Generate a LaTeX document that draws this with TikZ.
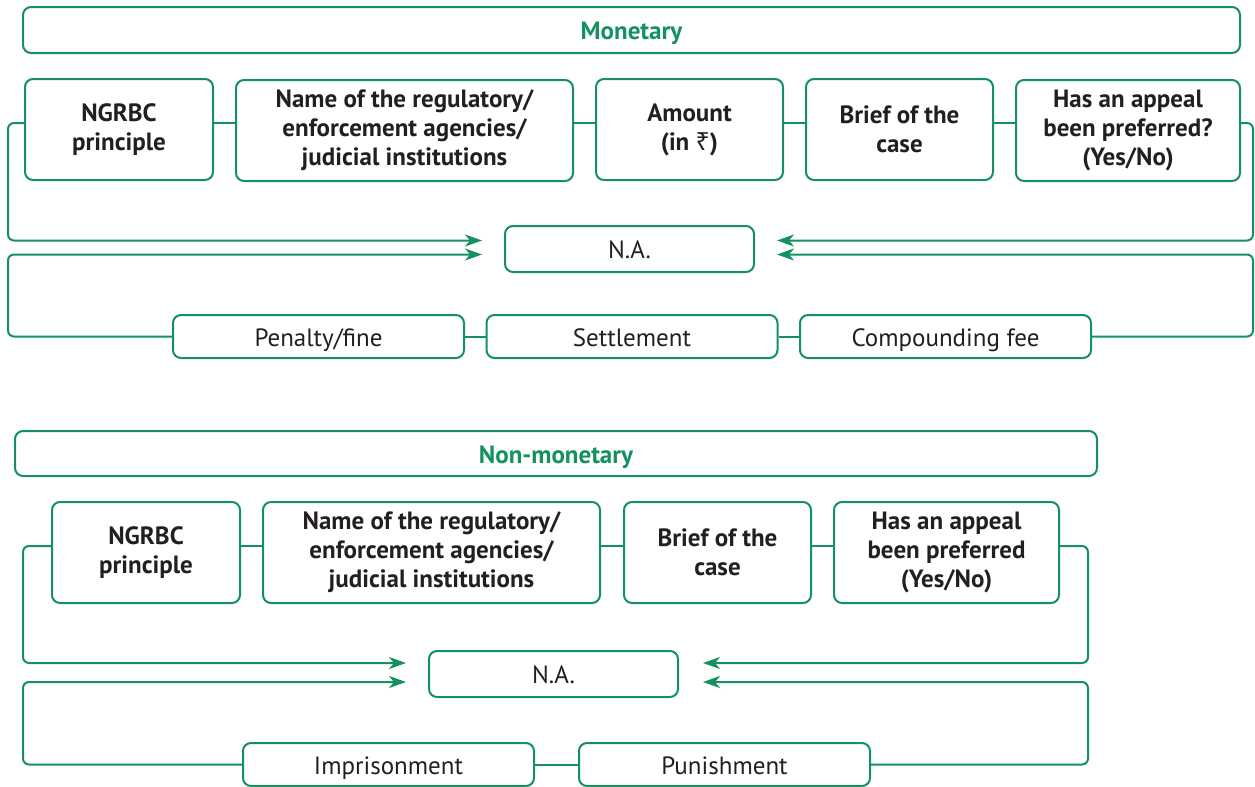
\documentclass[tikz,border=0pt]{standalone}
\usepackage{fontspec}
\setmainfont{PT Sans}
\newfontfamily\rupeefont{Noto Sans}
\usetikzlibrary{arrows.meta}
\definecolor{ngreen}{RGB}{20,145,95}
\definecolor{ntext}{RGB}{35,31,32}

\begin{document}
\begin{tikzpicture}[x=0.5pt,y=-0.5pt]
  \useasboundingbox (0,0) rectangle (1255,787);
  \tikzset{
    hdrbox/.style={draw=ngreen, line width=1pt, rounded corners=4pt, minimum height=23pt,
      inner sep=0pt, text height=11pt, text depth=1.5pt, text=ngreen,
      font=\fontsize{12.5}{14.5}\selectfont\bfseries},
    headbox/.style={draw=ngreen, line width=1pt, rounded corners=4pt, minimum height=50.5pt,
      inner sep=0pt, align=center, text=ntext, font=\fontsize{12.5}{14.5}\selectfont\bfseries},
    kindbox/.style={draw=ngreen, line width=1pt, rounded corners=4pt, minimum height=21.5pt,
      minimum width=145.5pt, inner sep=0pt, text height=11pt, text depth=1.5pt, text=ntext,
      font=\fontsize{12.5}{14.5}\selectfont},
    link/.style={draw=ngreen, line width=1pt},
    flow/.style={draw=ngreen, line width=1pt, rounded corners=3pt,
      -{Stealth[length=8.5pt,width=6pt,inset=2.5pt]}}
  }

% monetary
  \node[hdrbox, minimum width=608.5pt] (hdrMon) at (631.5, 30) {Monetary};

  \node[headbox, minimum width=94pt] (ngrbcMon) at (119, 129.5) {NGRBC\\principle};
  \node[headbox, minimum width=168.5pt] (nameMon) at (404.5, 130.5) {Name of the regulatory/\\enforcement agencies/\\judicial institutions};
  \node[headbox, minimum width=93.5pt] (amountMon) at (689.5, 129.5) {Amount\\(in {\rupeefont ₹})};
  \node[headbox, minimum width=93.5pt] (briefMon) at (899.5, 129.5) {Brief of the\\case};
  \node[headbox, minimum width=112pt] (appealMon) at (1128, 130.5) {Has an appeal\\been preferred?\\(Yes/No)};

  \node[kindbox, minimum width=124.5pt, minimum height=23pt] (naMon) at (629.5, 249) {N.A.};

  \node[kindbox] (penaltyMon) at (318.5, 336.5) {Penalty/fine};
  \node[kindbox] (settleMon) at (632, 336.5) {Settlement};
  \node[kindbox] (compoundMon) at (945.5, 336.5) {Compounding fee};

  \draw[link] ([yshift=3.25pt]ngrbcMon.east) -- ([yshift=3.75pt]nameMon.west);
  \draw[link] ([yshift=3.75pt]nameMon.east) -- ([yshift=3.25pt]amountMon.west);
  \draw[link] ([yshift=3.25pt]amountMon.east) -- ([yshift=3.25pt]briefMon.west);
  \draw[link] ([yshift=3.25pt]briefMon.east) -- ([yshift=3.75pt]appealMon.west);
  \draw[link] (penaltyMon.east) -- (settleMon.west);
  \draw[link] (settleMon.east) -- (compoundMon.west);

  \coordinate (tipMonL1) at (482, 240.5);
  \coordinate (tipMonL2) at (482, 254.5);
  \coordinate (tipMonR1) at (777, 240.5);
  \coordinate (tipMonR2) at (777, 254.5);
  \draw[flow] ([yshift=3.25pt]ngrbcMon.west) -| (8, 240.5) -- (tipMonL1);
  \draw[flow] (penaltyMon.west) -| (8, 254.5) -- (tipMonL2);
  \draw[flow] ([yshift=3.75pt]appealMon.east) -| (1253, 240.5) -- (tipMonR1);
  \draw[flow] (compoundMon.east) -| (1253, 254.5) -- (tipMonR2);

% non-monetary
  \node[hdrbox, minimum width=541pt, minimum height=22.5pt] (hdrNon) at (556, 453.5) {Non-monetary};

  \node[headbox, minimum width=94pt] (ngrbcNon) at (146, 552.5) {NGRBC\\principle};
  \node[headbox, minimum width=168.5pt] (nameNon) at (431.5, 552.5) {Name of the regulatory/\\enforcement agencies/\\judicial institutions};
  \node[headbox, minimum width=93.5pt] (briefNon) at (717.5, 552.5) {Brief of the\\case};
  \node[headbox, minimum width=112.5pt] (appealNon) at (946.5, 552.5) {Has an appeal\\been preferred\\(Yes/No)};

  \node[kindbox, minimum width=124.5pt, minimum height=23pt] (naNon) at (553.5, 674) {N.A.};

  \node[kindbox] (prisonNon) at (388.5, 764.5) {Imprisonment};
  \node[kindbox] (punishNon) at (724.5, 764.5) {Punishment};

  \draw[link] ([yshift=3.25pt]ngrbcNon.east) -- ([yshift=3.25pt]nameNon.west);
  \draw[link] ([yshift=3.25pt]nameNon.east) -- ([yshift=3.25pt]briefNon.west);
  \draw[link] ([yshift=3.25pt]briefNon.east) -- ([yshift=3.25pt]appealNon.west);
  \draw[link] (prisonNon.east) -- (punishNon.west);

  \coordinate (tipNonL1) at (406, 663);
  \coordinate (tipNonL2) at (406, 682);
  \coordinate (tipNonR1) at (703, 663);
  \coordinate (tipNonR2) at (703, 682);
  \draw[flow] ([yshift=3.25pt]ngrbcNon.west) -| (23, 663) -- (tipNonL1);
  \draw[flow] (prisonNon.west) -| (23, 682) -- (tipNonL2);
  \draw[flow] ([yshift=3.25pt]appealNon.east) -| (1088, 663) -- (tipNonR1);
  \draw[flow] (punishNon.east) -| (1088, 682) -- (tipNonR2);

\end{tikzpicture}
\end{document}
